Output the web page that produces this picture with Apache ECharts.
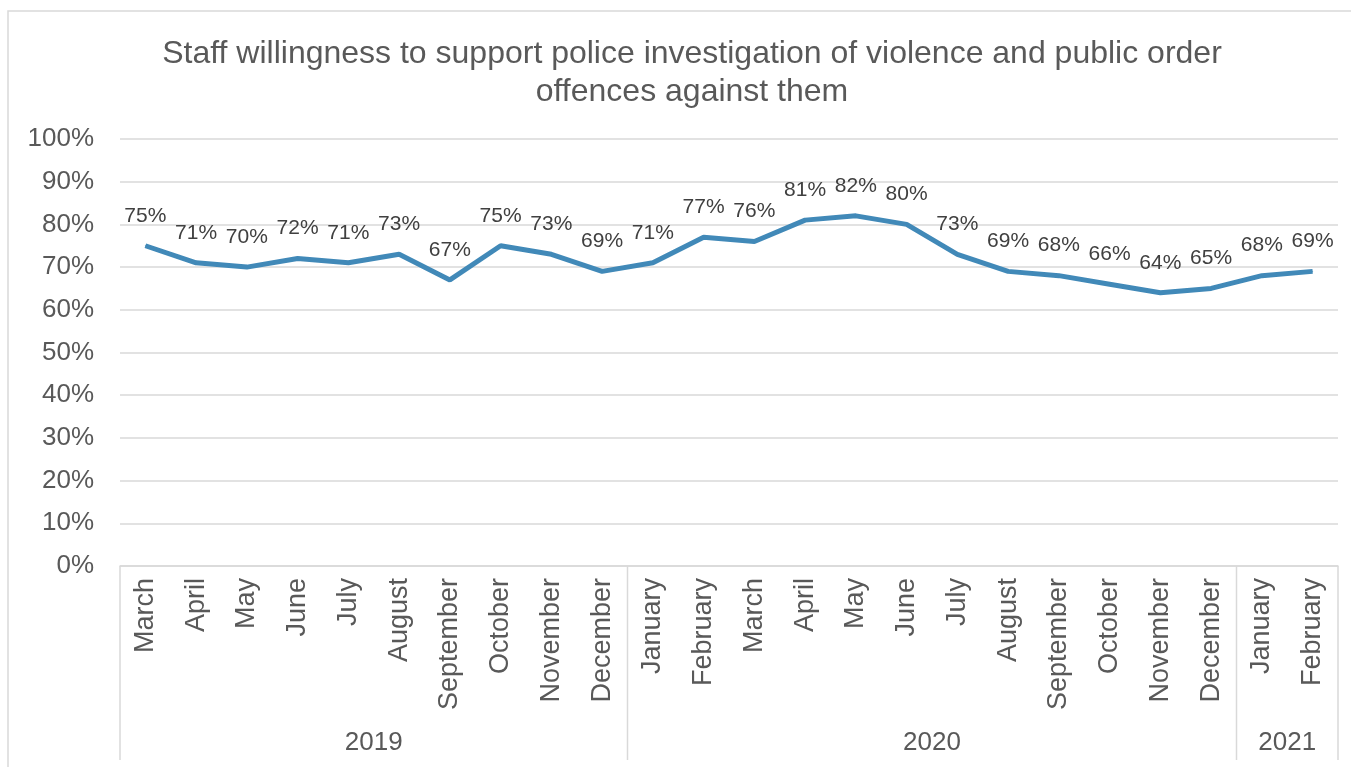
<!DOCTYPE html>
<html>
<head>
<meta charset="utf-8">
<script src="https://cdn.jsdelivr.net/npm/echarts@6/dist/echarts.min.js"></script>
<style>
  html, body { margin: 0; padding: 0; background: #fff; }
  #chart { width: 1351px; height: 767px; }
</style>
</head>
<body>
<div id="chart"></div>
<script>
const months = ['March', 'April', 'May', 'June', 'July', 'August', 'September', 'October', 'November', 'December',
  'January', 'February', 'March', 'April', 'May', 'June', 'July', 'August', 'September', 'October', 'November', 'December',
  'January', 'February'];
const willingness = [75, 71, 70, 72, 71, 73, 67, 75, 73, 69, 71, 77, 76, 81, 82, 80, 73, 69, 68, 66, 64, 65, 68, 69];
const years = ['2019', '2020', '2021'];
const monthsPerYear = [10, 12, 2];
const yTicks = [0, 10, 20, 30, 40, 50, 60, 70, 80, 90, 100];

// start / end category index of each year group
const groups = [];
let start = 0;
monthsPerYear.forEach((n) => {
  groups.push([start, start + n - 1]);
  start += n;
});

const font = 'Liberation Sans, Arial, sans-serif';
const chart = echarts.init(document.getElementById('chart'));

chart.setOption({
  animation: false,
  graphic: [{
    type: 'rect',
    shape: { x: 8, y: 11, width: 1400, height: 800 },
    style: { fill: 'none', stroke: '#d9d9d9', lineWidth: 1.5 },
    silent: true
  }],
  title: {
    text: 'Staff willingness to support police investigation of violence and public order\noffences against them',
    left: 687,
    top: 30,
    textAlign: 'center',
    textStyle: { fontFamily: font, fontSize: 32, fontWeight: 'normal', color: '#595959', lineHeight: 38 }
  },
  grid: { left: 120, right: 13, top: 139, bottom: 201 },
  xAxis: {
    type: 'category',
    data: months,
    boundaryGap: true,
    axisLine: { lineStyle: { color: '#d9d9d9', width: 1.5 } },
    axisTick: { show: false },
    axisLabel: { rotate: 90, interval: 0, margin: 12, fontFamily: font, fontSize: 27, color: '#595959' }
  },
  yAxis: {
    type: 'value',
    min: yTicks[0],
    max: yTicks[yTicks.length - 1],
    interval: yTicks[1] - yTicks[0],
    axisLine: { show: false },
    axisTick: { show: false },
    splitLine: { lineStyle: { color: '#d9d9d9', width: 1.5 } },
    axisLabel: { formatter: '{value}%', margin: 26, fontFamily: font, fontSize: 26, color: '#595959' }
  },
  series: [{
    type: 'line',
    data: willingness,
    symbol: 'circle',
    symbolSize: 1,
    showSymbol: true,
    itemStyle: { color: '#4189b8' },
    lineStyle: { color: '#4189b8', width: 5 },
    label: {
      show: true,
      position: 'top',
      distance: 19,
      formatter: '{c}%',
      fontFamily: font,
      fontSize: 21,
      color: '#404040'
    }
  }, {
    type: 'custom',
    silent: true,
    clip: false,
    data: groups,
    encode: { x: 0, y: 1 },
    renderItem: (params, api) => {
      const s = api.value(0);
      const e = api.value(1);
      const bw = api.size([1, 0])[0];
      const p0 = api.coord([s, 0]);
      const p1 = api.coord([e, 0]);
      const left = p0[0] - bw / 2;
      const right = p1[0] + bw / 2;
      const y0 = p0[1];
      const lineStyle = { stroke: '#d9d9d9', lineWidth: 1.5 };
      const children = [{
        type: 'line',
        shape: { x1: left, y1: y0, x2: left, y2: y0 + 194 },
        style: lineStyle
      }, {
        type: 'text',
        style: {
          text: years[params.dataIndex],
          x: (left + right) / 2,
          y: y0 + 177,
          align: 'center',
          verticalAlign: 'middle',
          font: '26px ' + font,
          fill: '#595959'
        }
      }];
      if (params.dataIndex === groups.length - 1) {
        children.push({
          type: 'line',
          shape: { x1: right, y1: y0, x2: right, y2: y0 + 194 },
          style: lineStyle
        });
      }
      return { type: 'group', children };
    }
  }]
});
</script>
</body>
</html>
